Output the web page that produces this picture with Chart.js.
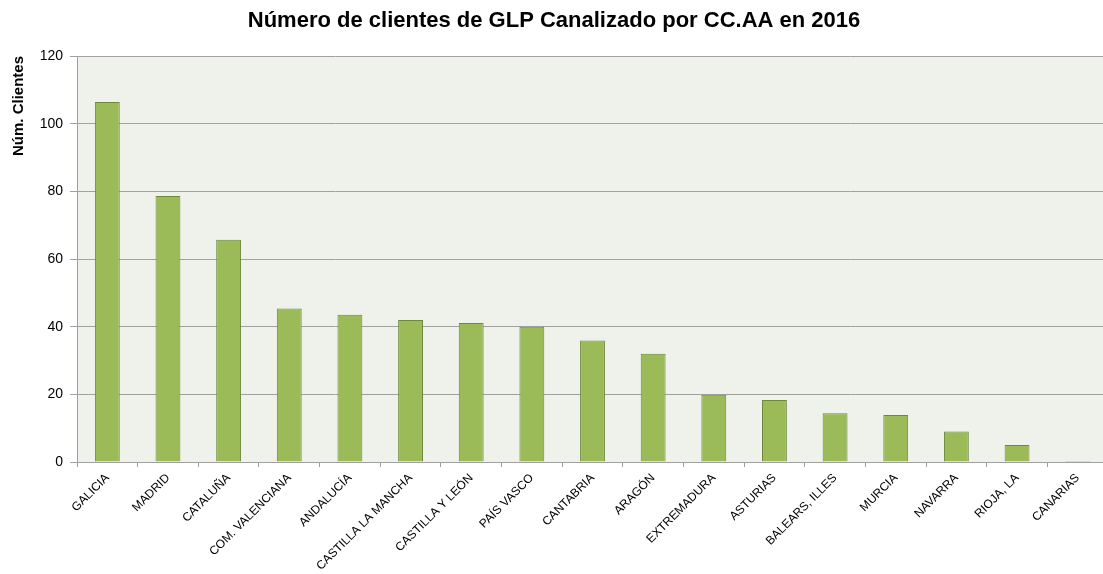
<!DOCTYPE html>
<html>
<head>
<meta charset="utf-8">
<script src="https://cdn.jsdelivr.net/npm/chart.js@4"></script>
<style>
html,body{margin:0;padding:0;background:#fff;overflow:hidden;}
#wrap{width:1103px;height:574px;position:relative;overflow:hidden;}
canvas{display:block;}
</style>
</head>
<body>
<div id="wrap"><canvas id="c" width="1108" height="574"></canvas></div>
<script>
const categories = ["GALICIA","MADRID","CATALUÑA","COM. VALENCIANA","ANDALUCÍA","CASTILLA LA MANCHA","CASTILLA Y LEÓN","PAÍS VASCO","CANTABRIA","ARAGÓN","EXTREMADURA","ASTURIAS","BALEARS, ILLES","MURCIA","NAVARRA","RIOJA, LA","CANARIAS"];
const clientes = [106.4, 78.6, 65.7, 45.4, 43.5, 42.0, 41.1, 40.0, 35.9, 32.0, 19.9, 18.3, 14.4, 13.9, 9.0, 5.0, 0.3];
const yTicks = [0, 20, 40, 60, 80, 100, 120];
const titleText = "Número de clientes de GLP Canalizado por CC.AA en 2016";
const yTitle = "Núm. Clientes";

const FONT = "'Liberation Sans', Arial, sans-serif";

const bgPlugin = {
  id: 'plotBg',
  beforeDraw(chart) {
    const {ctx, chartArea: a} = chart;
    ctx.save();
    ctx.fillStyle = '#EFF2EA';
    ctx.fillRect(a.left, a.top, a.right - a.left, a.bottom - a.top);
    ctx.restore();
  }
};

new Chart(document.getElementById('c'), {
  type: 'bar',
  data: {
    labels: categories,
    datasets: [{
      data: clientes,
      backgroundColor: '#9BBB59',
      borderColor: '#6E873C',
      borderWidth: 1,
      barPercentage: 0.41,
      categoryPercentage: 1.0
    }]
  },
  options: {
    responsive: false,
    animation: false,
    devicePixelRatio: 1,
    layout: { padding: { left: 0, right: 0, top: 0, bottom: 0 } },
    plugins: {
      legend: { display: false },
      tooltip: { enabled: false },
      title: {
        display: true,
        text: titleText,
        color: '#000',
        font: { family: FONT, size: 22, weight: 'bold' },
        padding: { top: 8, bottom: 21.6 }
      }
    },
    scales: {
      x: {
        offset: true,
        grid: {
          display: true,
          offset: true,
          drawOnChartArea: false,
          drawTicks: true,
          tickLength: 5,
          color: '#A0A0A0'
        },
        border: { display: true, color: '#A0A0A0', width: 1 },
        ticks: {
          color: '#000',
          font: { family: FONT, size: 12 },
          minRotation: 45,
          maxRotation: 45,
          autoSkip: false,
          padding: 4
        },
        afterFit(scale) { scale.height = 112; }
      },
      y: {
        min: 0,
        max: 120,
        afterBuildTicks(scale) { scale.ticks = yTicks.map(v => ({ value: v })); },
        grid: {
          color: '#A0A0A0',
          lineWidth: 1,
          drawTicks: true,
          tickLength: 7
        },
        border: { display: true, color: '#A0A0A0', width: 1 },
        ticks: {
          color: '#000',
          font: { family: FONT, size: 14 },
          padding: 7
        },
        title: {
          display: true,
          text: yTitle,
          align: 'end',
          color: '#000',
          font: { family: FONT, size: 15, weight: 'bold' },
          padding: { top: 10, bottom: 0 }
        },
        afterFit(scale) { scale.width = 77; }
      }
    }
  },
  plugins: [bgPlugin]
});
</script>
</body>
</html>
